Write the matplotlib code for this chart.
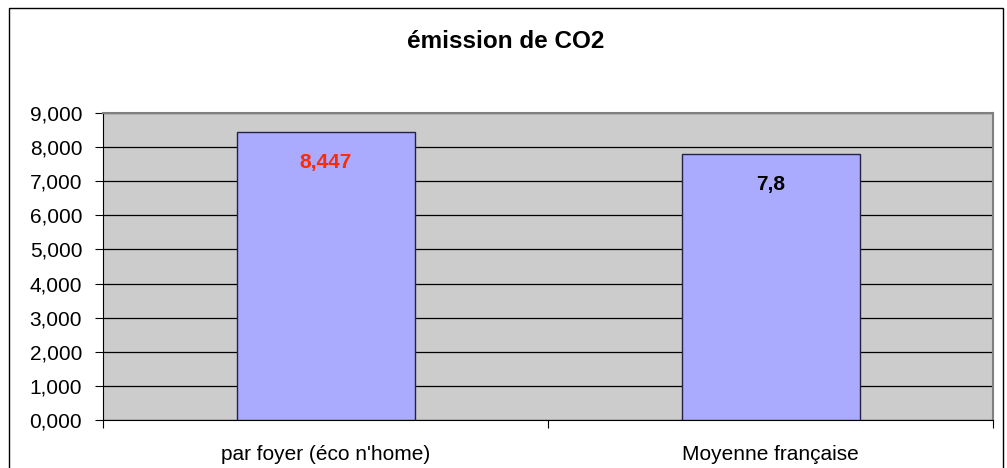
import matplotlib
matplotlib.use("Agg")
import matplotlib.pyplot as plt
from matplotlib.patches import Rectangle

categories = ["par foyer (éco n'home)", "Moyenne française"]
values = [8.447, 7.8]
value_labels = ["8,447", "7,8"]
label_colors = ["#FF2A00", "#000000"]
yticks = [0, 1, 2, 3, 4, 5, 6, 7, 8, 9]
ytick_labels = ["0,000", "1,000", "2,000", "3,000", "4,000", "5,000",
                "6,000", "7,000", "8,000", "9,000"]
title = "émission de CO2"

plt.rcParams['font.family'] = ['Liberation Sans', 'DejaVu Sans']

W, H = 1007, 468
fig = plt.figure(figsize=(W / 100, H / 100), dpi=100)
fig.patch.set_facecolor("white")

# outer chart border
fig.add_artist(Rectangle((9 / W, -0.05), (1003 - 9) / W, 1.05 - 8 / H,
                         transform=fig.transFigure, fill=False,
                         edgecolor="black", linewidth=1.0))

left, right, top, bottom = 103, 993, 113, 420
ax = fig.add_axes([left / W, 1 - bottom / H, (right - left) / W, (bottom - top) / H])
ax.set_facecolor("#CCCCCC")

x = list(range(len(categories)))
ax.bar(x, values, width=0.4, color="#AAAAFF", edgecolor="#222244",
       linewidth=1.0, zorder=3)

for xi, v, lab, c in zip(x, values, value_labels, label_colors):
    ax.annotate(lab, (xi, v), xytext=(0, -22), textcoords="offset points",
                ha="center", va="center", color=c, fontsize=15,
                fontweight="bold", zorder=4)

ax.set_xlim(-0.5, len(categories) - 0.5)
ax.set_ylim(0, 9)
ax.set_yticks(yticks)
ax.set_yticklabels(ytick_labels, fontsize=15)
ax.yaxis.grid(True, color="black", linewidth=0.9, zorder=1)
ax.set_axisbelow(True)

ax.set_xticks([-0.5, 0.5, 1.5])
ax.set_xticklabels([])
ax.set_xticks(x, minor=True)
ax.set_xticklabels(categories, minor=True, fontsize=15)
ax.tick_params(axis="x", which="minor", length=0, pad=18)
ax.tick_params(axis="x", which="major", length=6, direction="out", color="black")
ax.tick_params(axis="y", length=6, direction="out", pad=9)

for s in ["top", "right"]:
    ax.spines[s].set_color("#808080")
    ax.spines[s].set_linewidth(1.5)
ax.spines["left"].set_color("black")
ax.spines["bottom"].set_color("black")

fig.text(506 / W, 1 - 42 / H, title, ha="center", va="center",
         fontsize=17.5, fontweight="bold")

fig.savefig("out.png", dpi=100)
